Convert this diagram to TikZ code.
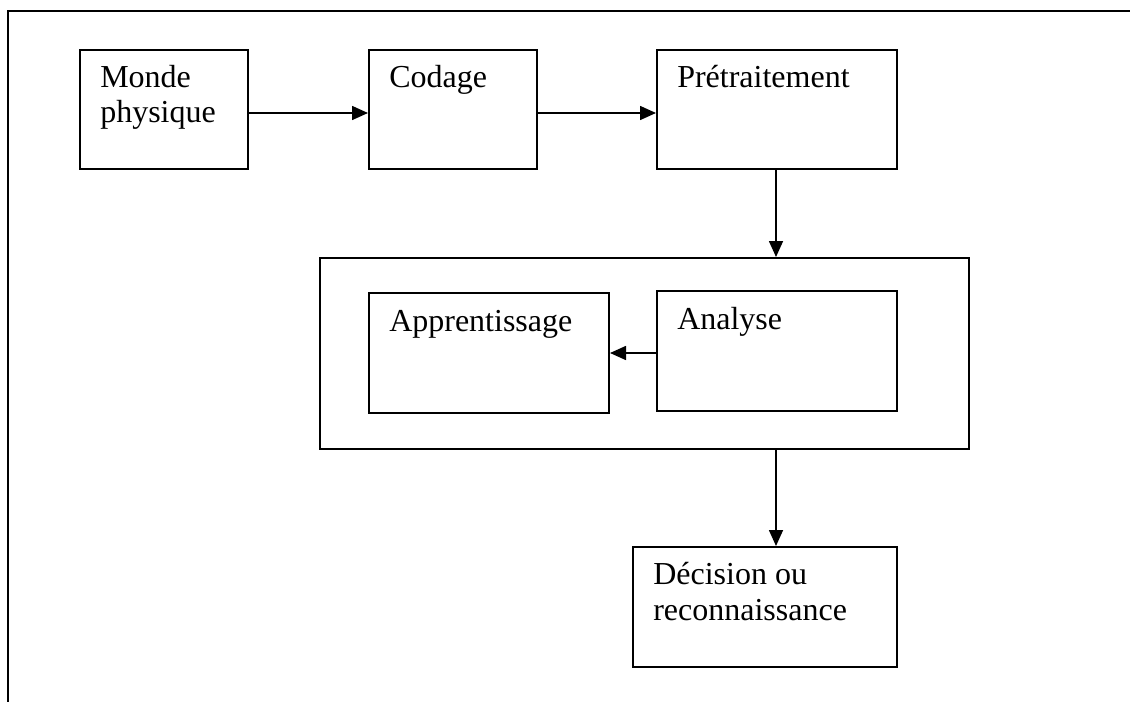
\documentclass[tikz,border=0pt]{standalone}
\usepackage{fontspec}
\setmainfont{Liberation Serif}
\usetikzlibrary{arrows.meta,positioning}
\begin{document}
\begin{tikzpicture}[x=0.75pt,y=-0.75pt,
  box/.style={draw,line width=1.5pt,inner sep=0pt,anchor=north west},
  lbl/.style={anchor=base west,inner sep=0pt,align=left,font=\fontsize{24}{26.3}\selectfont},
  arr/.style={line width=1.2pt,-{Triangle[length=12pt,width=10.5pt]}}]
\useasboundingbox (0,0) rectangle (1130,702);
% frame
\coordinate (fb) at (8,702);
\coordinate (ft) at (8,11);
\coordinate (fr) at (1130,11);
\draw[line width=2pt] (fb) -- (ft) -- (fr);
% boxes
\node[box,minimum width=168*0.75pt,minimum height=119*0.75pt] (monde) at (79,49) {};
\node[box,minimum width=168*0.75pt,minimum height=119*0.75pt] (codage) at (368,49) {};
\node[box,minimum width=240*0.75pt,minimum height=119*0.75pt] (pre) at (656,49) {};
\node[box,minimum width=649*0.75pt,minimum height=191*0.75pt] (big) at (319,257) {};
\node[box,minimum width=240*0.75pt,minimum height=120*0.75pt] (app) at (368,292) {};
\node[box,minimum width=240*0.75pt,minimum height=120*0.75pt] (ana) at (656,290) {};
\node[box,minimum width=264*0.75pt,minimum height=120*0.75pt] (dec) at (632,546) {};
% labels
\node[lbl] (tmonde) at ([shift={(21,74)}]monde.north west) {Monde\\physique};
\node[lbl] (tcodage) at ([shift={(21,39)}]codage.north west) {Codage};
\node[lbl] (tpre) at ([shift={(21,39)}]pre.north west) {Prétraitement};
\node[lbl] (tapp) at ([shift={(21,39)}]app.north west) {Apprentissage};
\node[lbl] (tana) at ([shift={(21,39)}]ana.north west) {Analyse};
\node[lbl] (tdec) at ([shift={(21,74)}]dec.north west) {Décision ou\\reconnaissance};
% arrows
\draw[arr] (monde.east |- 0,113) -- (codage.west |- 0,113);
\draw[arr] (codage.east |- 0,113) -- (pre.west |- 0,113);
\draw[arr] (776,0 |- pre.south) -- (776,0 |- big.north);
\draw[arr] (ana.west |- 0,353) -- (app.east |- 0,353);
\draw[arr] (776,0 |- big.south) -- (776,0 |- dec.north);
\end{tikzpicture}
\end{document}
